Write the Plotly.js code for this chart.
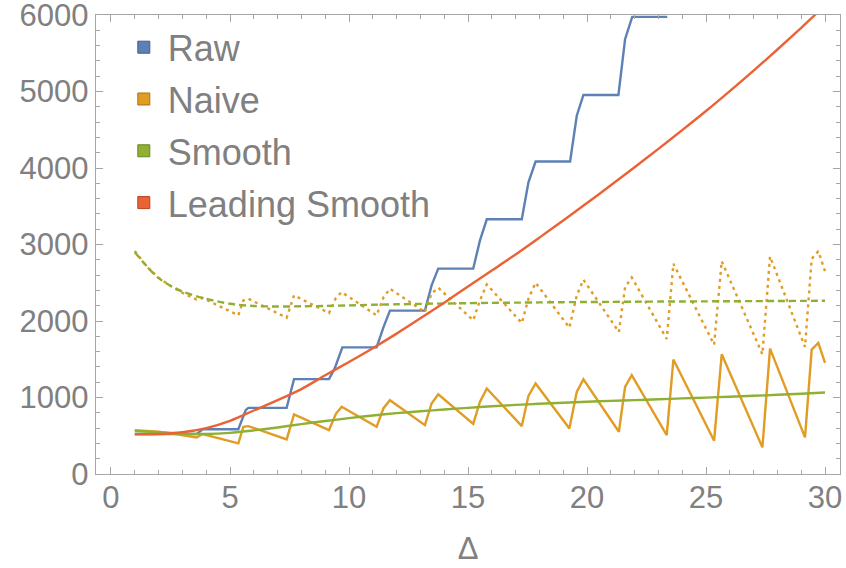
<!DOCTYPE html>
<html>
<head>
<meta charset="utf-8">
<script src="https://cdn.plot.ly/plotly-3.0.1.min.js"></script>
<style>html,body{margin:0;padding:0;background:#fff;}#chart{width:846px;height:568px;}</style>
</head>
<body>
<div id="chart"></div>
<script>
// ---- data ----
const rawX = [1, 3.6, 3.85, 5.35, 5.66, 5.77, 7.38, 7.69, 9.16, 9.4, 9.72, 11.16, 11.45, 11.72, 13.19, 13.47, 13.75, 15.22, 15.5, 15.79, 17.26, 17.54, 17.84, 19.29, 19.57, 19.85, 21.32, 21.6, 21.9, 23.37];
const rawY = [522, 522, 585, 585, 835, 865, 865, 1240, 1240, 1380, 1655, 1655, 1920, 2135, 2135, 2465, 2685, 2685, 3050, 3330, 3330, 3813, 4085, 4085, 4683, 4955, 4955, 5683, 5975, 5975];

const naiveX = [1, 1.5, 2, 2.5, 3, 3.6, 3.85, 5.35, 5.56, 5.77, 7.38, 7.69, 9.16, 9.45, 9.69, 11.16, 11.45, 11.72, 13.19, 13.47, 13.75, 15.22, 15.5, 15.79, 17.26, 17.54, 17.84, 19.26, 19.57, 19.85, 21.34, 21.6, 21.88, 23.35, 23.63, 25.34, 25.66, 27.37, 27.69, 29.16, 29.44, 29.72, 30];
const naiveY = [574, 565, 552, 533, 510, 478, 522, 400, 617, 626, 453, 778, 574, 787, 878, 617, 860, 965, 639, 922, 1043, 655, 943, 1117, 626, 1022, 1183, 596, 1074, 1239, 552, 1139, 1291, 509, 1496, 435, 1565, 348, 1639, 478, 1626, 1713, 1452];
const naiveDotY = [2915, 2712, 2567, 2458, 2368, 2280, 2300, 2074, 2269, 2291, 2043, 2335, 2104, 2300, 2378, 2074, 2310, 2422, 2117, 2360, 2435, 2009, 2269, 2478, 1974, 2291, 2500, 1913, 2335, 2539, 1856, 2443, 2570, 1765, 2748, 1691, 2782, 1565, 2843, 1661, 2813, 2913, 2652];

const deltaX = [1, 2, 3, 4, 5, 6, 7, 8, 9, 10, 11, 12, 13, 14, 15, 16, 17, 18, 19, 20, 21, 22, 23, 24, 25, 26, 27, 28, 29, 30];
const smoothY = [562, 545, 528, 523, 538, 570, 608, 652, 692, 730, 765, 795, 820, 843, 865, 885, 903, 918, 932, 945, 956, 966, 977, 988, 999, 1010, 1022, 1035, 1050, 1065];
const smoothDashY = [2900, 2560, 2385, 2290, 2225, 2196, 2190, 2192, 2197, 2204, 2212, 2218, 2224, 2229, 2233, 2237, 2240, 2243, 2246, 2248, 2250, 2252, 2254, 2255, 2257, 2258, 2260, 2261, 2263, 2264];
const leadY = [520, 522, 545, 600, 695, 830, 965, 1110, 1290, 1465, 1645, 1835, 2035, 2240, 2450, 2660, 2870, 3090, 3314, 3542, 3774, 4010, 4250, 4495, 4745, 5005, 5273, 5549, 5833, 6125];

const seriesNames = ['Raw', 'Naive', 'Smooth', 'Leading Smooth'];
const seriesColors = ['#5E81B5', '#E19C24', '#8FB032', '#EB6235'];
const seriesEdges = ['#3F5E8E', '#A8721A', '#6A8523', '#B84420'];
const xTicks = [0, 5, 10, 15, 20, 25, 30];
const yTicks = [0, 1000, 2000, 3000, 4000, 5000, 6000];

const gray = '#808080';
const axisGray = '#a6a6a6';
const W = 2.4;

const traces = [
  {x: rawX, y: rawY, mode: 'lines', line: {color: seriesColors[0], width: W}, showlegend: false, hoverinfo: 'skip'},
  {x: naiveX, y: naiveY, mode: 'lines', line: {color: seriesColors[1], width: W}, showlegend: false, hoverinfo: 'skip'},
  {x: naiveX, y: naiveDotY, mode: 'lines', line: {color: seriesColors[1], width: W, dash: '3px,4px'}, showlegend: false, hoverinfo: 'skip'},
  {x: deltaX, y: smoothY, mode: 'lines', line: {color: seriesColors[2], width: W, shape: 'spline', smoothing: 0.8}, showlegend: false, hoverinfo: 'skip'},
  {x: deltaX, y: smoothDashY, mode: 'lines', line: {color: seriesColors[2], width: W, dash: '7px,4px', shape: 'spline', smoothing: 0.8}, showlegend: false, hoverinfo: 'skip'},
  {x: deltaX, y: leadY, mode: 'lines', line: {color: seriesColors[3], width: W, shape: 'spline', smoothing: 0.8}, showlegend: false, hoverinfo: 'skip'}
];
seriesNames.forEach((n, i) => {
  traces.push({x: [null], y: [null], name: n, mode: 'markers', legendgroup: 'g' + i,
    marker: {symbol: 'square', size: 12, color: seriesColors[i], line: {color: seriesEdges[i], width: 1}}});
});

const font = {family: 'Liberation Sans, Arial, sans-serif', size: 31, color: gray};
const axisCommon = {
  showline: true, linecolor: axisGray, linewidth: 1.3, mirror: 'ticks',
  ticks: 'inside', ticklen: 7, tickwidth: 1, tickcolor: axisGray,
  showgrid: false, zeroline: false, tickfont: font, tickmode: 'array',
  ticklabeloverflow: 'allow'
};

const layout = {
  width: 846, height: 568,
  margin: {l: 96, r: 6, t: 15, b: 94},
  paper_bgcolor: '#fff', plot_bgcolor: '#fff',
  font: font,
  xaxis: Object.assign({}, axisCommon, {
    range: [-0.63, 30.63], tickvals: xTicks, ticktext: xTicks.map(String),
    minor: {dtick: 1, tick0: 0, ticks: 'inside', ticklen: 4, tickcolor: axisGray, tickwidth: 1},
    ticklabelstandoff: -5,
    title: {text: 'Δ', font: font, standoff: 23}
  }),
  yaxis: Object.assign({}, axisCommon, {
    range: [0, 6000], tickvals: yTicks, ticktext: yTicks.map(String),
    minor: {dtick: 200, tick0: 0, ticks: 'inside', ticklen: 4, tickcolor: axisGray, tickwidth: 1},
    ticklabelstandoff: 0
  }),
  legend: {
    x: 0.032, y: 0.995, xanchor: 'left', yanchor: 'top',
    bgcolor: 'rgba(0,0,0,0)', borderwidth: 0,
    font: {family: 'Liberation Sans, Arial, sans-serif', size: 36, color: gray},
    traceorder: 'grouped', tracegroupgap: 2, itemwidth: 38
  },
  showlegend: true
};

Plotly.newPlot('chart', traces, layout, {staticPlot: true, displayModeBar: false});
</script>
</body>
</html>
